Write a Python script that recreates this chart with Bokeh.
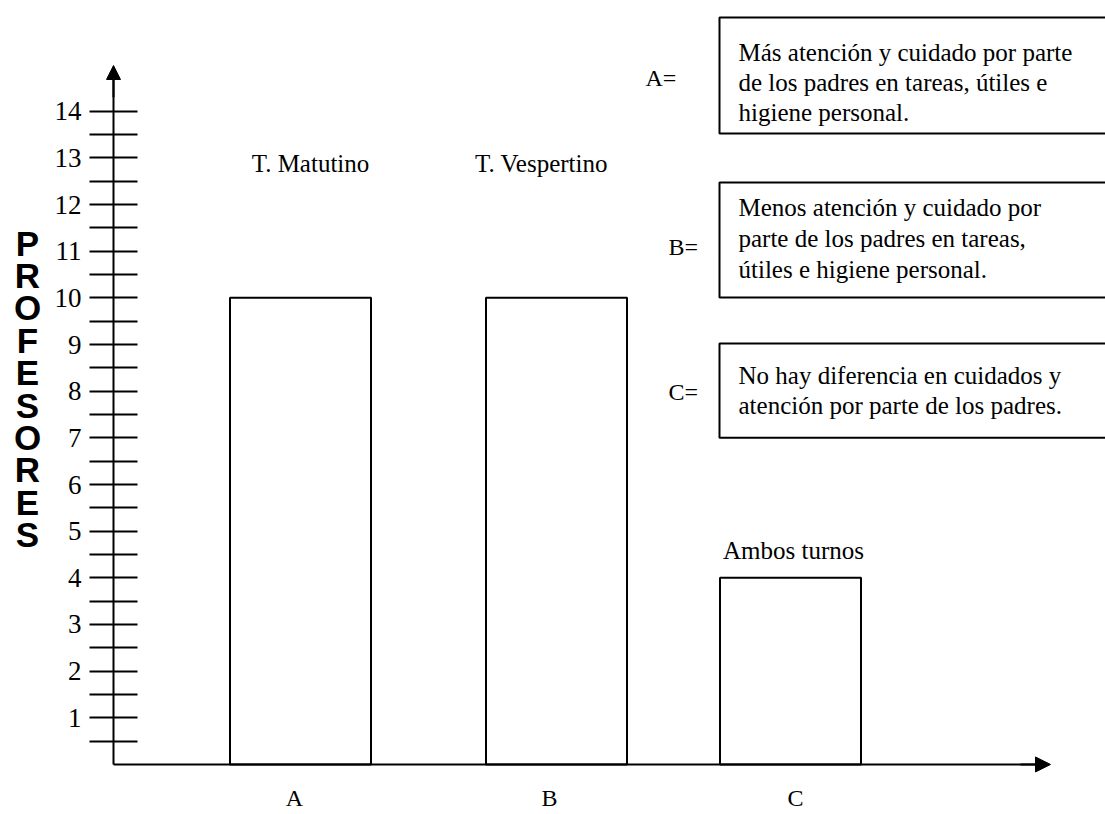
from bokeh.plotting import figure
from bokeh.models import Range1d, LinearAxis, FixedTicker, Arrow, NormalHead
from bokeh.core.properties import value
from bokeh.embed import file_html
from bokeh.resources import INLINE

# ---------------- data ----------------
categories = ["A", "B", "C"]
profesores = [10, 10, 4]
bar_labels = ["T. Matutino", "T. Vespertino", "Ambos turnos"]
y_ticks = list(range(1, 15))
y_minor_ticks = [i + 0.5 for i in range(0, 14)]
y_title = "PROFESORES"
legend_keys = ["A=", "B=", "C="]
legend_texts = [
    ["Más atención y cuidado por parte",
     "de los padres en tareas, útiles e",
     "higiene personal."],
    ["Menos atención y cuidado por",
     "parte de los padres en tareas,",
     "útiles e higiene personal."],
    ["No hay diferencia  en cuidados  y",
     "atención por parte de los padres."],
]

# ---------------- layout (positions / styles) ----------------
bar_x = [300, 556, 790]
bar_width = 141
category_label_x = [294, 549, 795]
bar_label_x = [310, 541, 793]
bar_label_y = [12.88, 12.88, 4.59]
box_left = 719
box_top = [16.01, 12.47, 9.02]
box_bottom = [13.52, 10.01, 7.0]
key_x = [645, 668, 668]
key_y = [14.72, 11.10, 7.99]
text_x = 738
text_y = [[15.26, 14.62, 13.97], [11.94, 11.27, 10.61], [8.34, 7.69]]
SERIF = value("Liberation Serif")

p = figure(width=1105, height=814, x_range=Range1d(0, 1105), y_range=Range1d(-1.0725, 16.373),
           output_backend="svg", toolbar_location=None,
           x_axis_type=None, y_axis_type=None,
           min_border_left=0, min_border_right=0, min_border_top=0, min_border_bottom=0)
p.outline_line_color = None
p.background_fill_color = "white"
p.border_fill_color = "white"

# y axis with ticks crossing the line, fixed at x = 113
yaxis = LinearAxis(ticker=FixedTicker(ticks=y_ticks, minor_ticks=y_minor_ticks),
                   fixed_location=113, bounds=(0, 14.7),
                   axis_line_color="black", axis_line_width=2,
                   major_tick_in=24, major_tick_out=24, minor_tick_in=24, minor_tick_out=24,
                   major_tick_line_color="black", minor_tick_line_color="black",
                   major_tick_line_width=2, minor_tick_line_width=2,
                   major_label_standoff=8,
                   major_label_text_font="Liberation Serif",
                   major_label_text_font_size="27px",
                   major_label_text_color="black")
p.add_layout(yaxis, "left")

# x axis fixed at y = 0 (category letters as its labels)
xaxis = LinearAxis(ticker=FixedTicker(ticks=category_label_x, minor_ticks=[]),
                   fixed_location=0, bounds=(113, 1040),
                   major_label_overrides={lx: c for lx, c in zip(category_label_x, categories)},
                   axis_line_color="black", axis_line_width=2,
                   major_tick_in=0, major_tick_out=0, minor_tick_in=0, minor_tick_out=0,
                   major_label_standoff=21,
                   major_label_text_font="Liberation Serif",
                   major_label_text_font_size="24px",
                   major_label_text_color="black")
p.add_layout(xaxis, "below")

# bars
p.vbar(x=bar_x, top=profesores, bottom=0, width=bar_width,
       fill_color="white", line_color="black", line_width=2)

# arrow heads
p.add_layout(Arrow(end=NormalHead(size=14, fill_color="black", line_color="black"),
                   x_start=113, y_start=14.3, x_end=113, y_end=14.98,
                   line_color="black", line_width=2))
p.add_layout(Arrow(end=NormalHead(size=15, fill_color="black", line_color="black"),
                   x_start=1020, y_start=0, x_end=1050, y_end=0,
                   line_color="black", line_width=2))

# labels above bars
p.text(x=bar_label_x, y=bar_label_y, text=bar_labels, text_font=SERIF,
       text_font_size="25px", text_color="black", text_align="center",
       text_baseline="alphabetic")

# legend boxes
p.quad(left=[box_left] * 3, right=[1130] * 3, top=box_top, bottom=box_bottom,
       fill_color="white", line_color="black", line_width=2)
p.text(x=key_x, y=key_y, text=legend_keys, text_font=SERIF, text_font_size="24px",
       text_color="black", text_align="left", text_baseline="alphabetic")
lx, ly, lt = [], [], []
for lines, ys in zip(legend_texts, text_y):
    for t, yy in zip(lines, ys):
        lx.append(text_x); ly.append(yy); lt.append(t)
p.text(x=lx, y=ly, text=lt, text_font=SERIF, text_font_size="25px",
       text_color="black", text_align="left", text_baseline="alphabetic")

# stacked vertical title
n = len(y_title)
top_c, bot_c = 11.17, 4.93
letter_y = [top_c - i * (top_c - bot_c) / (n - 1) for i in range(n)]
p.text(x=[27] * n, y=letter_y, text=list(y_title),
       text_font=value("Liberation Sans"), text_font_style="bold",
       text_font_size="35px", text_color="black",
       text_align="center", text_baseline="middle")

open("out.html", "w").write(file_html(p, INLINE))
